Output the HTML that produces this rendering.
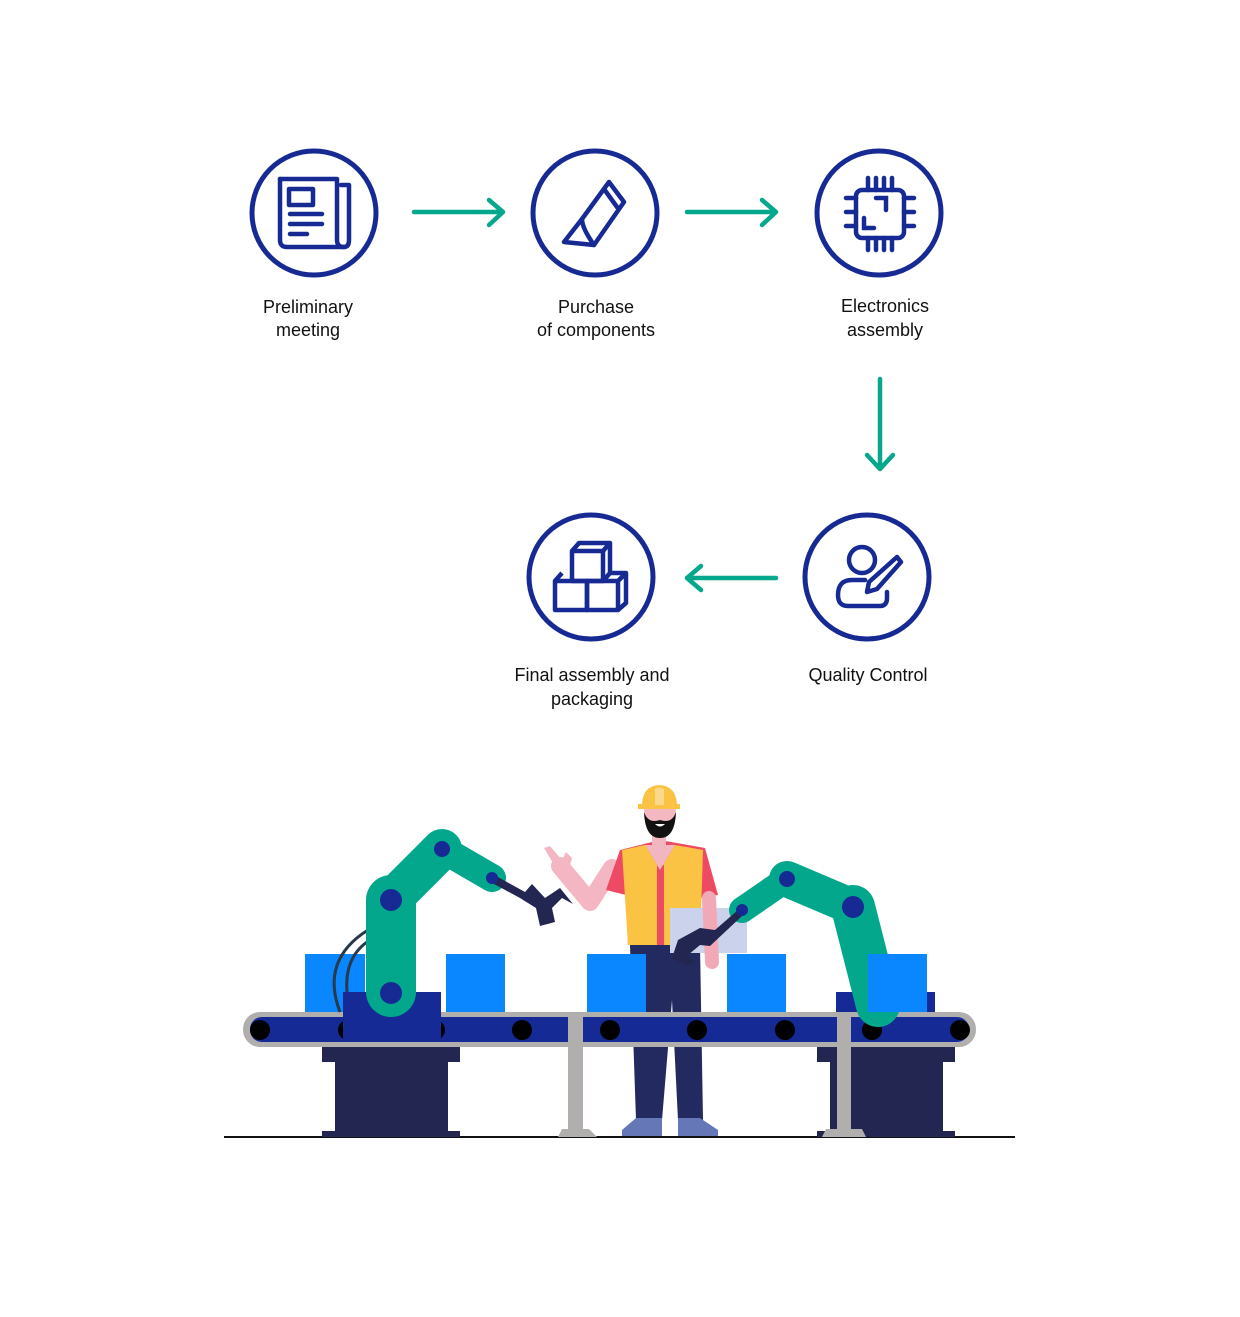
<!DOCTYPE html>
<html><head><meta charset="utf-8"><style>
html,body{margin:0;padding:0;background:#fff}
svg{display:block}
text{font-family:"Liberation Sans",sans-serif;font-size:18px;fill:#111}
</style></head><body>
<svg width="1240" height="1317" viewBox="0 0 1240 1317" xmlns="http://www.w3.org/2000/svg">
<g fill="none" stroke="#172a94" stroke-width="5">
<circle cx="314" cy="213" r="62"/>
<circle cx="595" cy="213" r="62"/>
<circle cx="879" cy="213" r="62"/>
<circle cx="591" cy="577" r="62"/>
<circle cx="867" cy="577" r="62"/>
</g>
<!-- newspaper -->
<g fill="none" stroke="#172a94" stroke-width="4.5" stroke-linecap="round" stroke-linejoin="round">
<path d="M280 179 H337 V240 Q337 247 344 247 Q349 247 349 240 V185 H341"/>
<path d="M280 179 V240 Q280 247 287 247 H344"/>
<rect x="289" y="189" width="24" height="16"/>
<path d="M290 214 H322 M290 224 H322 M290 234 H307"/>
</g>
<!-- pencil -->
<g fill="none" stroke="#172a94" stroke-width="4.5" stroke-linejoin="round" stroke-linecap="round">
<path d="M582 219 L609 182 L624 202 L594 245 L564 242 Z"/>
<path d="M582 219 Q582 228 594 245"/>
<path d="M604 189 L617 207"/>
</g>
<!-- chip -->
<g fill="none" stroke="#172a94" stroke-width="4.5" stroke-linecap="round">
<rect x="856" y="190" width="48" height="48" rx="6"/>
<path d="M868 178V190 M876 178V190 M884 178V190 M892 178V190 M868 238V250 M876 238V250 M884 238V250 M892 238V250 M846 198H856 M846 212H856 M846 226H856 M904 198H914 M904 212H914 M904 226H914"/>
<path d="M876 198H886V210 M864 218V228H874"/>
</g>
<!-- boxes -->
<g fill="none" stroke="#172a94" stroke-width="4.5" stroke-linejoin="round">
<rect x="572" y="551" width="31" height="30"/>
<path d="M572 551 L579 543 H610 V573 L603 581 M603 551 L610 543"/>
<rect x="555" y="581" width="32" height="29"/>
<rect x="587" y="581" width="31" height="29"/>
<path d="M555 581 L562 573 M618 581 L626 573 V603 L618 610 M618 581 L626 573 H610"/>
</g>
<!-- person edit -->
<g fill="none" stroke="#172a94" stroke-width="4.5" stroke-linecap="round" stroke-linejoin="round">
<circle cx="862" cy="560" r="13"/>
<path d="M865 580 H852 Q838 580 838 595 Q838 606 848 606 H880 Q887 606 887 598 V592"/>
<path d="M897 557 L901 562 L877 589 L867 592 L869 582 Z"/>
</g>
<!-- arrows -->
<g fill="none" stroke="#05a88c" stroke-width="4.5" stroke-linecap="round" stroke-linejoin="round">
<path d="M414 212H503 M489 200L503 212L489 225"/>
<path d="M687 212H776 M762 200L776 212L762 225"/>
<path d="M880 379V468 M867 455L880 469L893 455"/>
<path d="M776 578H688 M701 566L687 578L701 590"/>
</g>
<g text-anchor="middle">
<text x="308" y="313">Preliminary</text><text x="308" y="336">meeting</text>
<text x="596" y="313">Purchase</text><text x="596" y="336">of components</text>
<text x="885" y="312">Electronics</text><text x="885" y="336">assembly</text>
<text x="592" y="681">Final assembly and</text><text x="592" y="705">packaging</text>
<text x="868" y="681">Quality Control</text>
</g>
<!-- illustration -->
<line x1="224" y1="1137" x2="1015" y2="1137" stroke="#111" stroke-width="2"/>
<g fill="#222650">
<rect x="322" y="1042" width="138" height="20"/><rect x="335" y="1062" width="113" height="72"/><rect x="322" y="1131" width="138" height="6"/>
<rect x="817" y="1042" width="138" height="20"/><rect x="830" y="1062" width="113" height="72"/><rect x="817" y="1131" width="138" height="6"/>
</g>
<path d="M630 945 H700 L703 1120 H678 L672 1000 L662 1120 H636 Z" fill="#222a5f"/>
<path d="M622 1130 L636 1118 H662 V1136 H622 Z M678 1118 H700 L718 1130 V1136 H678 Z" fill="#6677b8"/>
<g fill="#0a86ff">
<rect x="305" y="954" width="60" height="58"/><rect x="446" y="954" width="59" height="58"/>
<rect x="587" y="954" width="59" height="58"/><rect x="727" y="954" width="59" height="58"/>
</g>
<!-- raised arm -->
<path d="M612 868 L590 902 L560 866" fill="none" stroke="#f4b6c3" stroke-width="18" stroke-linecap="round" stroke-linejoin="round"/>
<path d="M556 868 L544 848 L550 846 L562 860 L566 852 L572 858 L568 872 Z" fill="#f4b6c3"/>
<path d="M620 850 L660 840 L705 848 L718 895 L700 898 L698 945 H628 L626 895 L606 890 Z" fill="#ef4a63"/>
<path d="M622 850 L645 845 L660 870 L675 845 L703 850 L700 945 H628 Z" fill="#fbc343"/>
<rect x="657" y="865" width="7" height="80" fill="#ef4a63"/>
<path d="M645 845 L660 870 L675 845 Z" fill="#f1b6c0"/>
<rect x="670" y="908" width="77" height="45" fill="#cbd3ec"/>
<path d="M709 898 L712 962" stroke="#f1a8b7" stroke-width="14" stroke-linecap="round"/>
<!-- head -->
<rect x="652" y="826" width="14" height="20" fill="#f1b6c0"/>
<ellipse cx="660" cy="812" rx="16" ry="18" fill="#f4b8c2"/>
<path d="M644 812 Q645 838 660 838 Q675 838 676 812 Q672 824 660 820 Q648 824 644 812 Z" fill="#111"/>
<path d="M655 824 Q660 829 665 824 Z" fill="#fff"/>
<path d="M642 806 Q642 786 659 785 Q677 786 677 806 Z" fill="#fbc343"/>
<rect x="638" y="804" width="42" height="5" fill="#fbc343"/>
<path d="M655 789 Q659 786 664 789 V805 H655 Z" fill="#fcd98a"/>
<!-- belt -->
<rect x="243" y="1012" width="733" height="35" rx="17" fill="#b0afae"/>
<rect x="250" y="1017" width="719" height="25" rx="12" fill="#152a94"/>
<g fill="#000">
<circle cx="260" cy="1030" r="10"/><circle cx="348" cy="1030" r="10"/><circle cx="435" cy="1030" r="10"/><circle cx="522" cy="1030" r="10"/><circle cx="610" cy="1030" r="10"/><circle cx="697" cy="1030" r="10"/><circle cx="785" cy="1030" r="10"/><circle cx="872" cy="1030" r="10"/><circle cx="960" cy="1030" r="10"/>
</g>
<g fill="#b0afae">
<rect x="568" y="1012" width="15" height="120"/><path d="M558 1137 L562 1129 H589 L597 1137 Z"/>
<rect x="837" y="1012" width="14" height="120"/><path d="M822 1137 L826 1129 H862 L866 1137 Z"/>
</g>
<path d="M340 1012 Q320 960 368 930" fill="none" stroke="#263a4a" stroke-width="3"/>
<path d="M350 1010 Q338 960 370 940" fill="none" stroke="#263a4a" stroke-width="3"/>
<rect x="343" y="992" width="98" height="50" fill="#152a94"/>
<rect x="836" y="992" width="99" height="20" fill="#152a94"/>
<g stroke="#03a88c" stroke-linecap="round" stroke-linejoin="round" fill="none">
<path d="M391 992 L391 900" stroke-width="50"/>
<path d="M391 900 L442 849" stroke-width="40"/>
<path d="M442 849 L492 878" stroke-width="28"/>
</g>
<path d="M496 876 L525 892 L532 884 L545 898 L560 888 L573 904 L562 898 L552 908 L555 922 L540 926 L536 908 L520 898 L494 884 Z" fill="#222650"/>
<g fill="#172a94"><circle cx="391" cy="993" r="11"/><circle cx="391" cy="900" r="11"/><circle cx="442" cy="849" r="8"/><circle cx="492" cy="878" r="6"/></g>
<g stroke="#03a88c" stroke-linecap="round" stroke-linejoin="round" fill="none">
<path d="M878 1005 L853 907" stroke-width="44"/>
<path d="M853 907 L787 879" stroke-width="36"/>
<path d="M787 879 L742 910" stroke-width="26"/>
</g>
<rect x="868" y="954" width="59" height="58" fill="#0a86ff"/>
<path d="M738 910 L715 930 L700 928 L678 940 L672 958 L686 966 L695 962 L688 955 L700 945 L710 946 L742 916 Z" fill="#222650"/>
<g fill="#172a94"><circle cx="853" cy="907" r="11"/><circle cx="787" cy="879" r="8"/><circle cx="742" cy="910" r="6"/></g>
</svg>
</body></html>
